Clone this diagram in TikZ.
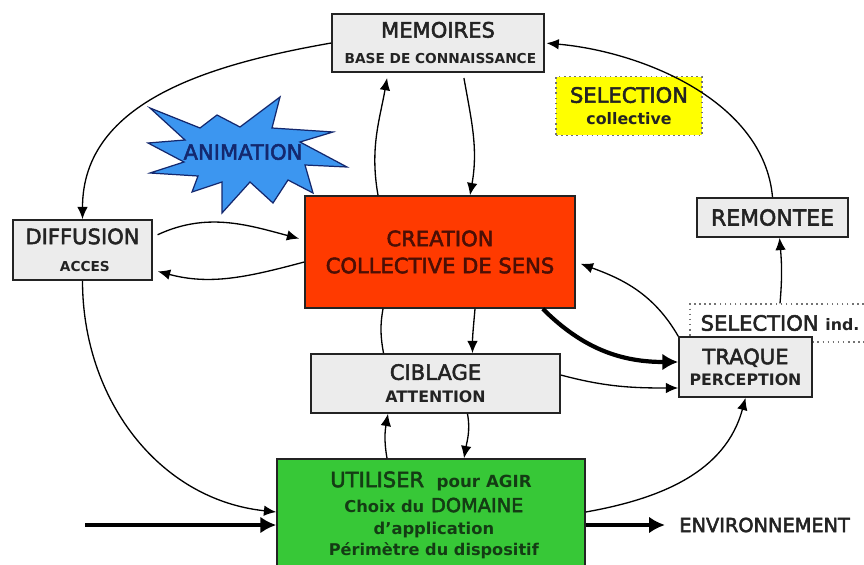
\documentclass[tikz,border=0pt]{standalone}
\usepackage{fontspec}
\setmainfont{DejaVu Sans}
\usetikzlibrary{arrows.meta,calc}
\definecolor{boxgrey}{RGB}{236,236,236}
\definecolor{txtgrey}{RGB}{35,35,35}
\definecolor{creared}{RGB}{255,58,0}
\definecolor{creatxt}{RGB}{75,15,5}
\definecolor{utilgreen}{RGB}{55,200,55}
\definecolor{utiltxt}{RGB}{20,60,20}
\definecolor{burstblue}{RGB}{60,150,240}
\definecolor{bursttxt}{RGB}{20,40,110}
\definecolor{selyellow}{RGB}{255,255,0}
\newcommand{\heavyon}{\special{pdf:literal direct 2 Tr 0.3 w}}
\newcommand{\heavyoff}{\special{pdf:literal direct 0 Tr}}
\newcommand{\bigtxt}{\heavyon\fontsize{12}{14}\selectfont}
\newcommand{\subtxt}[1][9]{\heavyoff\fontsize{#1}{11}\selectfont\bfseries}
\tikzset{
  box/.style={
    draw=txtgrey,
    fill=boxgrey,
    line width=0.9pt,
    text=txtgrey,
    align=center,
    inner sep=0pt,
    font=\bigtxt
  },
  creabox/.style={
    box,
    fill=creared,
    text=creatxt
  },
  utilbox/.style={
    box,
    fill=utilgreen,
    text=utiltxt
  },
  selbox/.style={
    box,
    draw=black!55,
    dotted,
    line width=0.8pt
  },
  burst/.style={
    draw=bursttxt,
    fill=burstblue,
    line width=0.7pt,
    line join=miter
  },
  arr/.style={
    -{Latex[length=7pt,width=6pt]},
    line width=0.75pt
  },
  thickarr/.style={
    -{Latex[length=9pt,width=9.5pt]},
    line width=2.4pt
  }
}

\begin{document}
\begin{tikzpicture}[x=0.02cm,y=0.02cm]
  \useasboundingbox (0,0) rectangle (864,-564);
  \draw[burst] (150,-108) -- (200,-128) -- (217,-115) -- (240,-127) -- (280,-97)
    -- (272,-128) -- (333,-132) -- (300,-142) -- (347,-167) -- (305,-165)
    -- (313,-193) -- (288,-180) -- (273,-203) -- (250,-182) -- (222,-213)
    -- (222,-182) -- (192,-192) -- (198,-176) -- (150,-173) -- (184,-162)
    -- (148,-143) -- (185,-140) -- cycle;
  \node[text=bursttxt,font=\bigtxt] (anim) at (243,-152) {ANIMATION\heavyoff};

  \node[box,minimum width=4.24cm,minimum height=1.16cm] (mem) at (438,-43)
    {MEMOIRES\\[1pt]\subtxt[7.8] BASE DE CONNAISSANCE};
  \node[selbox,fill=selyellow,minimum width=2.92cm,minimum height=1.18cm] (sel) at (629,-106)
    {SELECTION\\[-1.5pt]\subtxt collective};
  \node[box,minimum width=2.78cm,minimum height=1.2cm] (diff) at (82.5,-250)
    {DIFFUSION\\[1.5pt]\subtxt[7.8] ACCES};
  \node[creabox,minimum width=5.4cm,minimum height=2.24cm] (crea) at (440,-252)
    {CREATION\\[1.4pt]COLLECTIVE DE SENS\heavyoff};
  \node[box,font=\heavyon\fontsize{12.5}{14}\selectfont,minimum width=3.02cm,minimum height=0.78cm] (rem) at (772.5,-217.5)
    {REMONTEE\heavyoff};
  \node[selbox,fill=white,minimum width=3.6cm,minimum height=0.76cm] (selind) at (780,-323)
    {SELECTION \subtxt ind.};
  \node[box,minimum width=2.66cm,minimum height=1.2cm] (traque) at (745.5,-367)
    {TRAQUE\\[-2pt]\subtxt PERCEPTION};
  \node[box,minimum width=4.98cm,minimum height=1.18cm] (cib) at (435.5,-383.5)
    {CIBLAGE\\[-1pt]\subtxt ATTENTION};
  \node[utilbox,minimum width=6.16cm,minimum height=2.24cm] (util) at (431,-515)
    {UTILISER {\subtxt[9.5] pour AGIR}\\[0.2pt]{\subtxt[9.3] Choix du} {\heavyon\fontsize{11}{14}\selectfont DOMAINE\heavyoff}\\[-1.5pt]
     \subtxt[9.3] d'application\\[-2pt]\subtxt[9.2] Périmètre du dispositif};
  \node[anchor=west,inner sep=0pt,text=txtgrey,font=\heavyon\fontsize{11}{13}\selectfont] (env) at (679,-525) {ENVIRONNEMENT\heavyoff};
  \coordinate (src) at (85,-525);

  % memoires loop
  \draw[arr] (mem.west) to[out=190,in=90] (diff.north);
  \draw[arr,shorten >=3pt] ($(crea.north)+(-62,0)$) to[out=100,in=-100] ($(mem.south)+(-50,0)$);
  \draw[arr,shorten <=3pt] ($(mem.south)+(25,0)$) to[out=-80,in=80] ($(crea.north)+(30,0)$);
  \draw[arr,shorten >=1pt] (rem.north) to[out=95,in=-5,looseness=0.9] (mem.east);
  \draw[arr] (selind.north) to[out=85,in=-85] ($(rem.south)+(7,0)$);

  \draw[arr,shorten <=3pt,shorten >=3pt] ($(diff.east)+(0,13)$) to[out=25,in=165] ($(crea.west)+(0,12)$);
  \draw[arr,shorten >=3pt] ($(crea.west)+(0,-10)$) to[out=195,in=-15] ($(diff.east)+(0,-20)$);
  \draw[arr] (diff.south) to[out=-90,in=174] ($(util.west)+(0,3)$);
  \draw[thickarr] (src) -- (src -| util.west);

  \draw[line width=0.75pt] ($(crea.south)+(-57,0)$) to[out=-100,in=100] ($(cib.north)+(-52,0)$);
  \draw[arr] ($(crea.south)+(35,0)$) to[out=-95,in=90] ($(cib.north)+(37,0)$);
  \draw[arr] ($(util.north)+(-44,0)$) to[out=100,in=-100] ($(cib.south)+(-47.5,0)$);
  \draw[arr] ($(cib.south)+(32,0)$) to[out=-80,in=80] ($(util.north)+(33,0)$);

  \draw[thickarr] ($(crea.south east)+(-33,0)$) to[out=-45,in=180] ($(traque.west)+(0,5)$);
  \draw[arr] ($(cib.east)+(0,8.5)$) to[out=-15,in=180] ($(traque.west)+(0,-21)$);
  \draw[arr,shorten >=3pt] (traque.north west) to[out=120,in=-20] ($(crea.east)+(0,-10)$);
  \draw[arr] ($(util.east)+(0,3)$) to[out=10,in=-105] (traque.south);
  \draw[thickarr,shorten >=8pt] (util.east |- env.west) -- (env.west);
\end{tikzpicture}
\end{document}
